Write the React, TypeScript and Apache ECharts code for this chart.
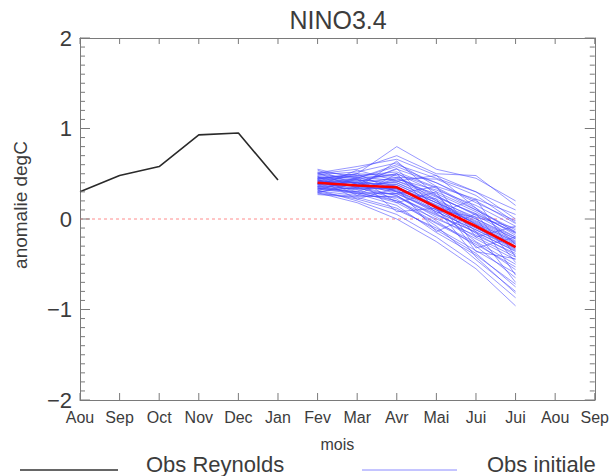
import React, { useEffect, useRef } from "react";
import * as echarts from "echarts";

const months = ["Aou", "Sep", "Oct", "Nov", "Dec", "Jan", "Fev", "Mar", "Avr", "Mai", "Jui", "Jui", "Aou", "Sep"];
const yTicks = [-2, -1, 0, 1, 2];
const minorPerMajor = 10;

// Obs Reynolds (Aou..Jan)
const obsReynolds = [0.30, 0.48, 0.58, 0.93, 0.95, 0.43];

// Ensemble forecasts (Fev..Jui)
const m01 = [0.45, 0.50, 0.80, 0.55, 0.45, 0.20];
const m02 = [0.50, 0.55, 0.70, 0.50, 0.48, 0.15];
const m03 = [0.55, 0.45, 0.60, 0.45, 0.30, 0.00];
const m04 = [0.42, 0.40, 0.55, 0.40, 0.20, -0.05];
const m05 = [0.38, 0.42, 0.50, 0.30, 0.10, -0.12];
const m06 = [0.35, 0.30, 0.45, 0.25, 0.05, -0.15];
const m07 = [0.40, 0.38, 0.40, 0.22, 0.00, -0.20];
const m08 = [0.30, 0.35, 0.42, 0.28, 0.08, -0.18];
const m09 = [0.45, 0.40, 0.38, 0.18, -0.02, -0.22];
const m10 = [0.48, 0.46, 0.36, 0.15, -0.05, -0.25];
const m11 = [0.36, 0.33, 0.34, 0.12, -0.08, -0.28];
const m12 = [0.42, 0.36, 0.32, 0.10, -0.10, -0.30];
const m13 = [0.50, 0.44, 0.30, 0.14, -0.04, -0.26];
const m14 = [0.33, 0.28, 0.28, 0.08, -0.12, -0.32];
const m15 = [0.28, 0.25, 0.25, 0.05, -0.15, -0.35];
const m16 = [0.44, 0.50, 0.48, 0.20, 0.02, -0.10];
const m17 = [0.38, 0.32, 0.20, 0.00, -0.18, -0.38];
const m18 = [0.46, 0.42, 0.44, 0.32, 0.15, -0.08];
const m19 = [0.52, 0.48, 0.52, 0.35, 0.12, -0.15];
const m20 = [0.40, 0.34, 0.26, 0.02, -0.22, -0.45];
const m21 = [0.34, 0.30, 0.18, -0.05, -0.28, -0.53];
const m22 = [0.30, 0.22, 0.10, -0.10, -0.35, -0.60];
const m23 = [0.37, 0.28, 0.15, -0.15, -0.40, -0.72];
const m24 = [0.43, 0.35, 0.22, -0.08, -0.45, -0.80];
const m25 = [0.32, 0.20, 0.05, -0.20, -0.50, -0.87];
const m26 = [0.29, 0.18, 0.00, -0.25, -0.55, -0.96];
const m27 = [0.41, 0.37, 0.30, 0.06, -0.20, -0.42];
const m28 = [0.47, 0.43, 0.40, 0.20, -0.06, -0.30];
const m29 = [0.39, 0.45, 0.58, 0.40, 0.18, -0.02];
const m30 = [0.35, 0.38, 0.46, 0.26, 0.04, -0.20];
const m31 = [0.44, 0.39, 0.33, 0.16, -0.03, -0.24];
const m32 = [0.49, 0.52, 0.62, 0.36, 0.22, 0.05];
const m33 = [0.31, 0.26, 0.24, 0.04, -0.14, -0.36];
const m34 = [0.36, 0.41, 0.36, 0.12, -0.16, -0.40];
const m35 = [0.42, 0.30, 0.28, 0.10, -0.25, -0.50];
const m36 = [0.45, 0.47, 0.42, 0.24, 0.06, -0.16];
const m37 = [0.33, 0.34, 0.38, 0.18, -0.06, -0.27];
const m38 = [0.39, 0.36, 0.26, -0.02, -0.30, -0.65];
const m39 = [0.27, 0.24, 0.12, -0.12, -0.38, -0.75];
const m40 = [0.51, 0.58, 0.66, 0.48, 0.30, 0.10];
const m41 = [0.38, 0.44, 0.50, 0.34, 0.10, -0.14];
const m42 = [0.43, 0.37, 0.34, 0.14, -0.10, -0.33];
const m43 = [0.46, 0.40, 0.31, 0.08, -0.12, -0.34];
const m44 = [0.34, 0.29, 0.20, -0.04, -0.26, -0.56];
const m45 = [0.40, 0.33, 0.35, 0.18, 0.00, -0.22];
const m46 = [0.36, 0.54, 0.42, 0.48, 0.12, -0.28];
const m47 = [0.47, 0.26, 0.50, 0.06, 0.22, -0.42];
const m48 = [0.31, 0.46, 0.18, 0.30, -0.32, -0.20];
const m49 = [0.54, 0.38, 0.56, 0.10, 0.02, -0.62];
const m50 = [0.29, 0.40, 0.28, 0.36, -0.20, -0.08];
const m51 = [0.44, 0.22, 0.34, -0.14, 0.06, -0.48];
const m52 = [0.39, 0.50, 0.30, 0.22, -0.36, -0.44];
const m53 = [0.51, 0.34, 0.64, 0.26, -0.14, -0.70];
const m54 = [0.33, 0.44, 0.08, 0.12, -0.42, -0.82];
const m55 = [0.42, 0.48, 0.46, 0.44, 0.26, -0.04];

const members = [m01, m02, m03, m04, m05, m06, m07, m08, m09, m10, m11, m12, m13, m14, m15,
  m16, m17, m18, m19, m20, m21, m22, m23, m24, m25, m26, m27, m28, m29, m30,
  m31, m32, m33, m34, m35, m36, m37, m38, m39, m40, m41, m42, m43, m44, m45,
  m46, m47, m48, m49, m50, m51, m52, m53, m54, m55];

// Ensemble mean (Fev..Jui)
const ensMean = [0.40, 0.37, 0.35, 0.13, -0.08, -0.31];

// Zero reference (Aou..Jui)
const zeroLine = [0, 0, 0, 0, 0, 0, 0, 0, 0, 0, 0, 0];

const FONT = "'Liberation Sans', 'DejaVu Sans', sans-serif";
const TXT = "#3c3c3c";
const FRAME = "#7a7a7a";

export default function App() {
  const ref = useRef<HTMLDivElement>(null);
  useEffect(() => {
    if (!ref.current) return;
    const chart = echarts.init(ref.current, null, { renderer: "svg" });
    const fcStart = 6;
    const lastIdx = months.length - 1;
    const pad = (arr: number[], start: number) => {
      const out: (number | null)[] = months.map(() => null);
      arr.forEach((v, i) => (out[start + i] = v));
      return out;
    };
    const ensSeries = members.map((m, k) => ({
      type: "line",
      name: "ens" + k,
      data: pad(m, fcStart),
      showSymbol: false,
      symbol: "none",
      lineStyle: { color: "#4646ff", width: 0.8, opacity: 0.7 },
      z: 3,
    }));

    // Frame ticks drawn through the axes' own scales (api.coord)
    const yTickSeries = {
      type: "custom",
      name: "yticks",
      coordinateSystem: "cartesian2d",
      silent: true,
      clip: false,
      z: 10,
      data: yTicks.map((v) => [0, v]),
      renderItem: (params: any, api: any) => {
        const v = api.value(1);
        const children: any[] = [];
        const addTick = (val: number, len: number) => {
          const pl = api.coord([0, val]);
          const pr = api.coord([lastIdx, val]);
          children.push({ type: "line", shape: { x1: pl[0], y1: pl[1], x2: pl[0] + len, y2: pl[1] }, style: { stroke: FRAME, lineWidth: 1 } });
          children.push({ type: "line", shape: { x1: pr[0], y1: pr[1], x2: pr[0] - len, y2: pr[1] }, style: { stroke: FRAME, lineWidth: 1 } });
        };
        addTick(v, 10);
        const idx = params.dataIndex;
        if (idx < yTicks.length - 1) {
          const next = yTicks[idx + 1];
          for (let k = 1; k < minorPerMajor; k++) addTick(v + ((next - v) * k) / minorPerMajor, 5);
        }
        return { type: "group", children };
      },
    };
    const xTickSeries = {
      type: "custom",
      name: "xticks",
      coordinateSystem: "cartesian2d",
      silent: true,
      clip: false,
      z: 10,
      data: months.map((_, i) => [i, yTicks[0]]),
      renderItem: (params: any, api: any) => {
        const i = params.dataIndex;
        const pb = api.coord([i, yTicks[0]]);
        const pt = api.coord([i, yTicks[yTicks.length - 1]]);
        return {
          type: "group",
          children: [
            { type: "line", shape: { x1: pb[0], y1: pb[1], x2: pb[0], y2: pb[1] - 7 }, style: { stroke: FRAME, lineWidth: 1 } },
            { type: "line", shape: { x1: pt[0], y1: pt[1], x2: pt[0], y2: pt[1] + 6 }, style: { stroke: FRAME, lineWidth: 1 } },
          ],
        };
      },
    };

    const mkLine = () => ({ show: true, onZero: false, lineStyle: { color: FRAME } });
    chart.setOption({
      animation: false,
      tooltip: { show: false },
      grid: { left: 80, right: 13, top: 38, bottom: 76 },
      xAxis: [
        {
          type: "category",
          data: months,
          boundaryGap: false,
          position: "bottom",
          axisLine: mkLine(),
          axisTick: { show: false },
          splitLine: { show: false },
          axisLabel: { color: TXT, fontSize: 16, margin: 9, fontFamily: FONT },
          name: "mois",
          nameLocation: "middle",
          nameGap: 36,
          nameTextStyle: { color: TXT, fontSize: 16, fontFamily: FONT },
        },
        {
          type: "category",
          data: months,
          boundaryGap: false,
          position: "top",
          axisLine: mkLine(),
          axisTick: { show: false },
          splitLine: { show: false },
          axisLabel: { show: false },
        },
      ],
      yAxis: [
        {
          type: "value",
          min: yTicks[0],
          max: yTicks[yTicks.length - 1],
          interval: 1,
          position: "left",
          axisLine: mkLine(),
          splitLine: { show: false },
          axisTick: { show: false },
          minorTick: { show: false },
          axisLabel: {
            color: TXT,
            fontSize: 22,
            margin: 8,
            fontFamily: FONT,
            formatter: (v: number) => String(v).replace("-", "\u2212"),
          },
        },
        {
          type: "value",
          min: yTicks[0],
          max: yTicks[yTicks.length - 1],
          interval: 1,
          position: "right",
          axisLine: mkLine(),
          splitLine: { show: false },
          axisTick: { show: false },
          minorTick: { show: false },
          axisLabel: { show: false },
        },
      ],
      series: [
        {
          type: "line",
          name: "zero",
          data: zeroLine,
          symbol: "none",
          lineStyle: { color: "#ff7070", width: 0.8, type: [3, 3] },
          z: 2,
        },
        {
          type: "line",
          name: "Obs Reynolds",
          data: obsReynolds,
          symbol: "none",
          lineStyle: { color: "#2a2a2a", width: 1.6 },
          z: 4,
        },
        ...ensSeries,
        {
          type: "line",
          name: "Moyenne",
          data: pad(ensMean, fcStart),
          symbol: "none",
          lineStyle: { color: "#ff0000", width: 2.6 },
          z: 5,
        },
        yTickSeries,
        xTickSeries,
      ],
      graphic: [
        {
          type: "text",
          x: 338,
          y: 20,
          style: { text: "NINO3.4", fill: TXT, fontSize: 25, fontFamily: FONT, align: "center", verticalAlign: "middle" },
        },
        {
          type: "text",
          x: 20,
          y: 205,
          rotation: Math.PI / 2,
          style: { text: "anomalie degC", fill: TXT, fontSize: 19, fontFamily: FONT, align: "center", verticalAlign: "middle" },
        },
        {
          type: "line",
          shape: { x1: 20, y1: 470, x2: 118, y2: 470 },
          style: { stroke: "#333333", lineWidth: 1.3 },
        },
        {
          type: "text",
          x: 146,
          y: 464,
          style: { text: "Obs Reynolds", fill: TXT, fontSize: 22, fontFamily: FONT, verticalAlign: "middle" },
        },
        {
          type: "line",
          shape: { x1: 362, y1: 470, x2: 457, y2: 470 },
          style: { stroke: "#8a8aff", lineWidth: 1 },
        },
        {
          type: "text",
          x: 487,
          y: 464,
          style: { text: "Obs initiale", fill: TXT, fontSize: 22, fontFamily: FONT, verticalAlign: "middle" },
        },
      ],
    });
    return () => chart.dispose();
  }, []);
  return <div ref={ref} style={{ width: 612, height: 476, position: "absolute", left: 0, top: 0 }} />;
}
